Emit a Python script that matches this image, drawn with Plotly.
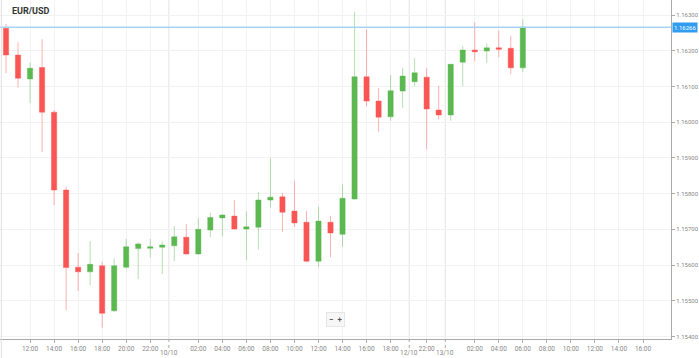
import plotly.graph_objects as go

# ---- data (hourly EUR/USD candles) ----
candle_index = list(range(44))
open_ = [1.16263, 1.16188, 1.16121, 1.16153, 1.16028, 1.15810, 1.15594, 1.15581, 1.15598, 1.15472,
         1.15594, 1.15646, 1.15647, 1.15650, 1.15654, 1.15678, 1.15631, 1.15698, 1.15732, 1.15737,
         1.15701, 1.15706, 1.15782, 1.15791, 1.15751, 1.15720, 1.15611, 1.15720, 1.15686, 1.15785,
         1.16127, 1.16059, 1.16015, 1.16087, 1.16113, 1.16126, 1.16034, 1.16020, 1.16168, 1.16202,
         1.16199, 1.16208, 1.16207, 1.16152]
high = [1.16275, 1.16224, 1.16167, 1.16232, 1.16034, 1.15819, 1.15634, 1.15667, 1.15608, 1.15619,
        1.15673, 1.15664, 1.15673, 1.15666, 1.15709, 1.15715, 1.15732, 1.15747, 1.15742, 1.15782,
        1.15751, 1.15804, 1.15899, 1.15802, 1.15836, 1.15751, 1.15763, 1.15738, 1.15826, 1.16309,
        1.16260, 1.16095, 1.16132, 1.16152, 1.16179, 1.16151, 1.16102, 1.16163, 1.16213, 1.16280,
        1.16221, 1.16256, 1.16242, 1.16288]
low = [1.16137, 1.16097, 1.16053, 1.15917, 1.15768, 1.15474, 1.15527, 1.15544, 1.15425, 1.15468,
       1.15590, 1.15560, 1.15621, 1.15575, 1.15611, 1.15630, 1.15630, 1.15678, 1.15680, 1.15700,
       1.15614, 1.15644, 1.15761, 1.15693, 1.15707, 1.15608, 1.15595, 1.15622, 1.15651, 1.15783,
       1.16045, 1.15973, 1.16004, 1.16040, 1.16101, 1.15924, 1.16008, 1.16004, 1.16101, 1.16171,
       1.16166, 1.16182, 1.16135, 1.16141]
close = [1.16188, 1.16123, 1.16151, 1.16028, 1.15810, 1.15593, 1.15581, 1.15602, 1.15465, 1.15598,
         1.15651, 1.15659, 1.15651, 1.15656, 1.15679, 1.15631, 1.15700, 1.15733, 1.15740, 1.15701,
         1.15707, 1.15782, 1.15790, 1.15748, 1.15718, 1.15611, 1.15723, 1.15690, 1.15787, 1.16127,
         1.16059, 1.16014, 1.16088, 1.16129, 1.16138, 1.16037, 1.16020, 1.16162, 1.16202, 1.16197,
         1.16208, 1.16204, 1.16152, 1.16266]

current_price = 1.16266

# x tick positions (candle slots) and labels
tick_pos = [2, 4, 6, 8, 10, 12, 16, 18, 20, 22, 24, 26, 28, 30, 32, 35, 39, 41, 43, 45, 47, 49, 51, 53]
tick_text = ["12:00", "14:00", "16:00", "18:00", "20:00", "22:00", "02:00", "04:00", "06:00", "08:00",
             "10:00", "12:00", "14:00", "16:00", "18:00", "22:00", "02:00", "04:00", "06:00", "08:00",
             "10:00", "12:00", "14:00", "16:00"]
day_pos = [13.55, 33.55, 36.55]
day_text = ["10/10", "12/10", "13/10"]

y_ticks = [1.154, 1.155, 1.156, 1.157, 1.158, 1.159, 1.160, 1.161, 1.162, 1.163]

FONT = "Roboto"

fig = go.Figure(go.Candlestick(
    x=candle_index, open=open_, high=high, low=low, close=close,
    increasing=dict(line=dict(color="rgba(92,184,80,0.45)", width=1), fillcolor="#5cb850"),
    decreasing=dict(line=dict(color="rgba(250,85,85,0.45)", width=1), fillcolor="#fa5555"),
    hoverinfo="skip", showlegend=False,
))

shapes = []
for d in day_pos:
    shapes.append(dict(type="line", xref="x", yref="paper", x0=d, x1=d, y0=0, y1=1,
                       line=dict(color="#e3e3e3", width=1), layer="below"))
    shapes.append(dict(type="line", xref="x", yref="paper", x0=d, x1=d, y0=0, y1=-0.035,
                       line=dict(color="#aaaaaa", width=1, dash="dot")))
shapes.append(dict(type="line", xref="paper", yref="y", x0=0, x1=1, y0=current_price, y1=current_price,
                   line=dict(color="#a6d3f5", width=1.5)))
shapes.append(dict(type="line", xref="paper", yref="paper", x0=0.002, x1=0.002, y0=-0.06, y1=1,
                   line=dict(color="#e0e0e0", width=1)))

annotations = []
for d, t in zip(day_pos, day_text):
    annotations.append(dict(x=d, y=-0.04, xref="x", yref="paper", text=t, showarrow=False,
                            yanchor="middle", font=dict(family=FONT, size=6.5, color="#888888")))
annotations.append(dict(x=1.0, y=current_price, xref="paper", yref="y", text=f"{current_price:.5f}",
                        showarrow=False, xanchor="left", yanchor="middle", xshift=1,
                        bgcolor="#2f9cf0", borderpad=1,
                        font=dict(family=FONT, size=6, color="white")))
annotations.append(dict(x=0.015, y=0.968, xref="paper", yref="paper", text="<b>EUR/USD</b>",
                        showarrow=False, xanchor="left", yanchor="middle",
                        font=dict(family=FONT, size=9, color="#333333")))
annotations.append(dict(x=0.5, y=0.057, xref="paper", yref="paper", text="<b>−  +</b>",
                        showarrow=False, xanchor="center", yanchor="middle",
                        bgcolor="#f7f7f7", bordercolor="#e6e6e6", borderwidth=1, borderpad=2,
                        font=dict(family=FONT, size=8, color="#555555")))

fig.update_layout(
    width=699, height=358,
    margin=dict(l=0, r=23, t=0, b=19),
    paper_bgcolor="white", plot_bgcolor="white",
    boxgap=0.38,
    shapes=shapes, annotations=annotations,
    xaxis=dict(range=[-0.5, 55.33], rangeslider=dict(visible=False),
               tickmode="array", tickvals=tick_pos, ticktext=tick_text,
               showgrid=True, gridcolor="#f2f2f2", gridwidth=1, zeroline=False,
               showline=True, linecolor="#aaaaaa", linewidth=1,
               ticks="outside", ticklen=3, tickcolor="#aaaaaa",
               tickfont=dict(family=FONT, size=6.5, color="#888888")),
    yaxis=dict(range=[1.15393, 1.16342], side="right",
               tickmode="array", tickvals=y_ticks, ticktext=[f"{v:.5f}" for v in y_ticks],
               showgrid=True, gridcolor="#f2f2f2", gridwidth=1, zeroline=False,
               showline=True, linecolor="#aaaaaa", linewidth=1,
               ticks="outside", ticklen=3, tickcolor="#aaaaaa",
               tickfont=dict(family=FONT, size=6, color="#888888")),
    hovermode=False,
)

fig.write_html("out.html", config={"displayModeBar": False},
               post_script="document.body.style.margin='0';document.body.style.overflow='hidden';")
